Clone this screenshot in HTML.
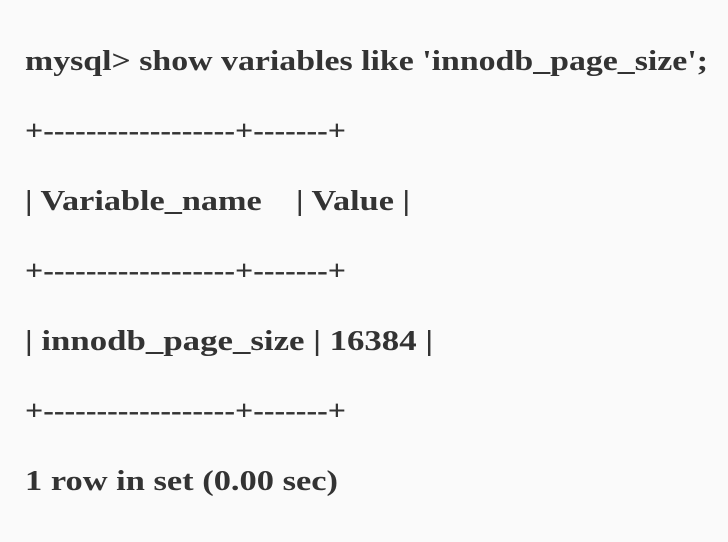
<!DOCTYPE html>
<html><head><style>
html,body{margin:0;padding:0;background:#fafafa;}
svg{display:block;}
text{font-family:"Liberation Serif",serif;font-weight:bold;font-size:29px;fill:#333;}
</style></head><body>
<svg width="728" height="542" xmlns="http://www.w3.org/2000/svg">
<rect width="728" height="542" fill="#fafafa"/>
<text x="25" y="70" textLength="683" lengthAdjust="spacingAndGlyphs">mysql&gt; show variables like 'innodb_page_size';</text>
<text x="25" y="140" textLength="321" lengthAdjust="spacingAndGlyphs">+------------------+-------+</text>
<text x="25" y="210" xml:space="preserve" textLength="385" lengthAdjust="spacingAndGlyphs">| Variable_name    | Value |</text>
<text x="25" y="280" textLength="321" lengthAdjust="spacingAndGlyphs">+------------------+-------+</text>
<text x="25" y="350" textLength="408" lengthAdjust="spacingAndGlyphs">| innodb_page_size | 16384 |</text>
<text x="25" y="420" textLength="321" lengthAdjust="spacingAndGlyphs">+------------------+-------+</text>
<text x="25" y="490" textLength="313" lengthAdjust="spacingAndGlyphs">1 row in set (0.00 sec)</text>
</svg>
</body></html>
